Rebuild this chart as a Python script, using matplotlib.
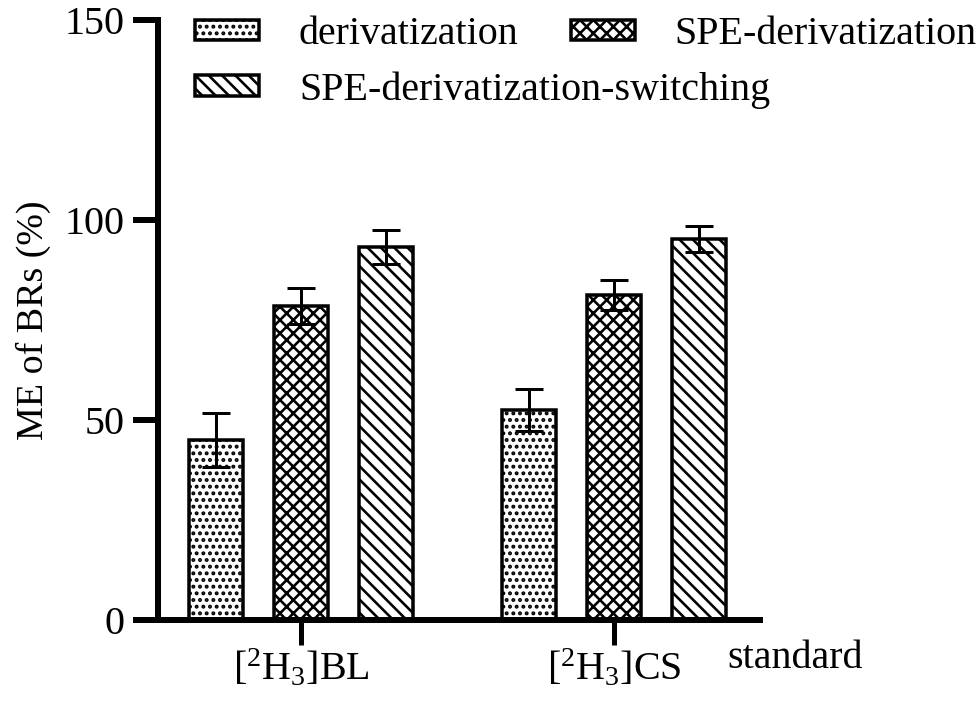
import numpy as np
import matplotlib
matplotlib.use("Agg")
from matplotlib import pyplot as plt

# ---- data ----
groups = [r"[$^{2}$H$_{3}$]BL", r"[$^{2}$H$_{3}$]CS"]
methods = ["derivatization", "SPE-derivatization", "SPE-derivatization-switching"]
me_deriv = [45.0, 52.5]
me_spe = [78.5, 81.3]
me_switch = [93.2, 95.3]
err_deriv = [6.8, 5.3]
err_spe = [4.4, 3.8]
err_switch = [4.3, 3.2]
hatches = ["..", "xx", "\\\\"]

DPI = 80
P = 72.0 / DPI   # pixels -> points

plt.rcParams["font.family"] = ["Liberation Serif", "DejaVu Serif"]
plt.rcParams["mathtext.fontset"] = "custom"
plt.rcParams["mathtext.rm"] = "Liberation Serif"
plt.rcParams["mathtext.it"] = "Liberation Serif:italic"
plt.rcParams["hatch.linewidth"] = 2.6 * P
fs = 40 * P

fig = plt.figure(figsize=(979/DPI, 705/DPI), dpi=DPI)
ax = fig.add_axes([158/979, 1-620/705, (760-158)/979, 600/705])

x = np.arange(len(groups))
w = 0.1725
step = 0.2716
vals = [me_deriv, me_spe, me_switch]
errs = [err_deriv, err_spe, err_switch]
bars = []
for i in range(3):
    b = ax.bar(x + (i-1)*step, vals[i], w, yerr=errs[i], color="white", edgecolor="black",
               linewidth=3.5*P, hatch=hatches[i], label=methods[i],
               error_kw=dict(ecolor="black", elinewidth=3*P, capsize=14*P, capthick=3*P))
    bars.append(b)

ax.set_xlim(-0.457, 1.466)
ax.set_ylim(0, 150)
ax.set_yticks([0, 50, 100, 150])
ax.set_xticks(x)
ax.set_xticklabels(groups)
ax.set_ylabel("ME of BRs (%)", fontsize=38*P, labelpad=14*P)
for s in ["top", "right"]:
    ax.spines[s].set_visible(False)
for s in ["left", "bottom"]:
    ax.spines[s].set_linewidth(6*P)
ax.tick_params(axis="y", width=6*P, length=25*P, labelsize=fs, pad=8*P)
ax.tick_params(axis="x", width=5*P, length=25*P, labelsize=fs, pad=3*P)
fig.text(727/979, 1-658/705, "standard", fontsize=fs, va="center", ha="left")

leg_kw = dict(frameon=False, handlelength=1.6, handleheight=0.4, handletextpad=1.0,
              fontsize=fs, borderaxespad=0, borderpad=0, bbox_transform=fig.transFigure)
leg1 = ax.legend(bars[:2], methods[:2], loc="center left", ncol=2, columnspacing=1.3,
                 bbox_to_anchor=(195/979, 1-35/705), **leg_kw)
ax.add_artist(leg1)
ax.legend(bars[2:], methods[2:], loc="center left",
          bbox_to_anchor=(195/979, 1-90/705), **leg_kw)

fig.savefig("out.png", dpi=DPI)
